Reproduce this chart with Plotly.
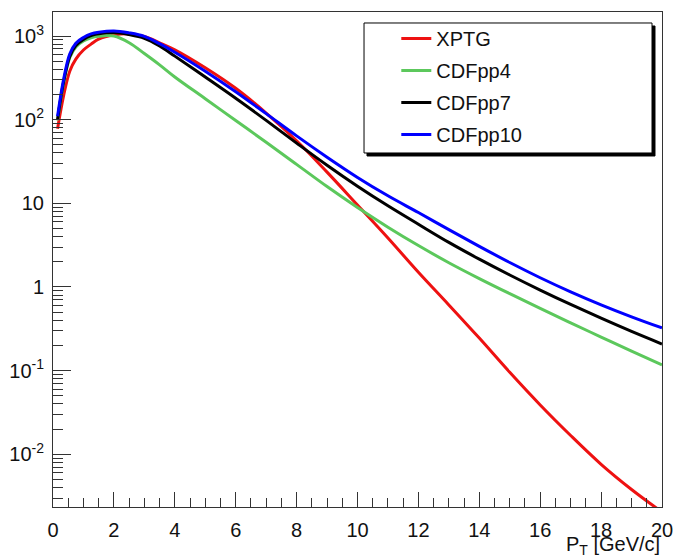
import plotly.graph_objects as go

# ---------------- data ----------------
pt = [0.15, 0.35, 0.55, 0.75, 1.0, 1.25, 1.5, 2.0, 2.5, 3.0, 3.5, 4.0, 5.0, 6.0,
      7.0, 8.0, 9.0, 10.0, 11.0, 12.0, 13.0, 14.0, 15.0, 16.0, 17.0, 18.0, 19.0, 20.0]

xptg = [78, 195, 380, 530, 680, 800, 920, 1030, 1060, 985, 830, 684, 417, 237,
        120, 56, 23.6, 9.55, 3.85, 1.5, 0.61, 0.245, 0.0955, 0.0389, 0.0168, 0.0076, 0.0038, 0.00204]

cdfpp4 = [98, 275, 550, 740, 870, 950, 990, 1000, 832, 617, 452, 324, 178, 97.7,
          53.7, 29.2, 15.85, 8.91, 5.19, 3.13, 1.95, 1.26, 0.832, 0.556, 0.373, 0.252, 0.171, 0.117]

cdfpp7 = [100, 285, 570, 770, 910, 1010, 1060, 1100, 1040, 940, 760, 575, 323, 180,
          98, 52.5, 28.5, 16.0, 9.33, 5.62, 3.41, 2.15, 1.39, 0.918, 0.618, 0.423, 0.294, 0.208]

cdfpp10 = [110, 305, 610, 820, 960, 1060, 1110, 1150, 1090, 990, 810, 641, 380, 216,
           118, 64.0, 35.6, 20.4, 12.3, 7.76, 4.85, 3.06, 1.96, 1.29, 0.875, 0.612, 0.44, 0.324]

series_names = ["XPTG", "CDFpp4", "CDFpp7", "CDFpp10"]
series_values = [xptg, cdfpp4, cdfpp7, cdfpp10]
series_colors = ["#ee1111", "#5cc85c", "#000000", "#0000ff"]

y_major_vals = [0.01, 0.1, 1, 10, 100, 1000]
y_major_text = ["10<sup>-2</sup>", "10<sup>-1</sup>", "1", "10", "10<sup>2</sup>", "10<sup>3</sup>"]
x_major_vals = [0, 2, 4, 6, 8, 10, 12, 14, 16, 18, 20]

# ---------------- figure ----------------
FONT = "Liberation Sans, Arial, sans-serif"
AX = "#333333"
TXT = "#111111"

fig = go.Figure()
for name, vals, col in zip(series_names, series_values, series_colors):
    fig.add_trace(go.Scatter(
        x=pt, y=vals, mode="lines", name=name, legendgroup=name,
        line=dict(color=col, width=3, shape="spline", smoothing=1.0),
    ))

y_minor = []
for k in range(-3, 4):
    for m in range(2, 10):
        y_minor.append(m * 10 ** k)

fig.update_layout(
    width=676, height=558,
    margin=dict(l=53, r=14, t=12, b=51, autoexpand=False),
    paper_bgcolor="white", plot_bgcolor="white",
    font=dict(family=FONT, size=20, color=TXT),
    showlegend=True,
    legend=dict(
        x=0.5637, y=0.986, xanchor="left", yanchor="top",
        bgcolor="rgba(0,0,0,0)", borderwidth=0,
        font=dict(family=FONT, size=20, color=TXT),
        tracegroupgap=3,
    ),
    xaxis=dict(
        range=[0, 20], showgrid=False, zeroline=False, automargin=False,
        showline=True, linecolor=AX, linewidth=1, mirror=True,
        tickmode="array", tickvals=x_major_vals,
        ticks="inside", ticklen=15, tickwidth=1, tickcolor=AX,
        ticklabelstandoff=5,
        minor=dict(ticks="inside", ticklen=9, tickwidth=1, tickcolor=AX,
                   dtick=0.5, tick0=0, showgrid=False),
        tickfont=dict(family=FONT, size=20, color=TXT),
    ),
    yaxis=dict(
        type="log", range=[-2.63, 3.287], showgrid=False, zeroline=False, automargin=False,
        showline=True, linecolor=AX, linewidth=1, mirror=True,
        tickmode="array", tickvals=y_major_vals, ticktext=y_major_text,
        ticks="inside", ticklen=18, tickwidth=1, tickcolor=AX,
        ticklabelstandoff=4,
        minor=dict(ticks="inside", ticklen=10, tickwidth=1, tickcolor=AX,
                   tickmode="array", tickvals=y_minor, showgrid=False),
        tickfont=dict(family=FONT, size=20, color=TXT),
    ),
)

# legend frame with ROOT-like drop shadow (paper coordinates)
fig.add_shape(type="rect", xref="paper", yref="paper",
              x0=0.5156, x1=0.9885, y0=0.7091, y1=0.9717,
              fillcolor="black", line=dict(color="black", width=1), layer="above")
fig.add_shape(type="rect", xref="paper", yref="paper",
              x0=0.5107, x1=0.9836, y0=0.7152, y1=0.9778,
              fillcolor="white", line=dict(color="black", width=1), layer="above")

fig.add_annotation(
    text="P<sub>T</sub> [GeV/c]", xref="paper", yref="paper",
    x=1.0, y=-0.049, xanchor="right", yanchor="top", showarrow=False,
    font=dict(family=FONT, size=20, color=TXT),
)

fig.write_html(
    "out.html",
    config={"displayModeBar": False},
    post_script="document.body.style.margin='0px';",
)
